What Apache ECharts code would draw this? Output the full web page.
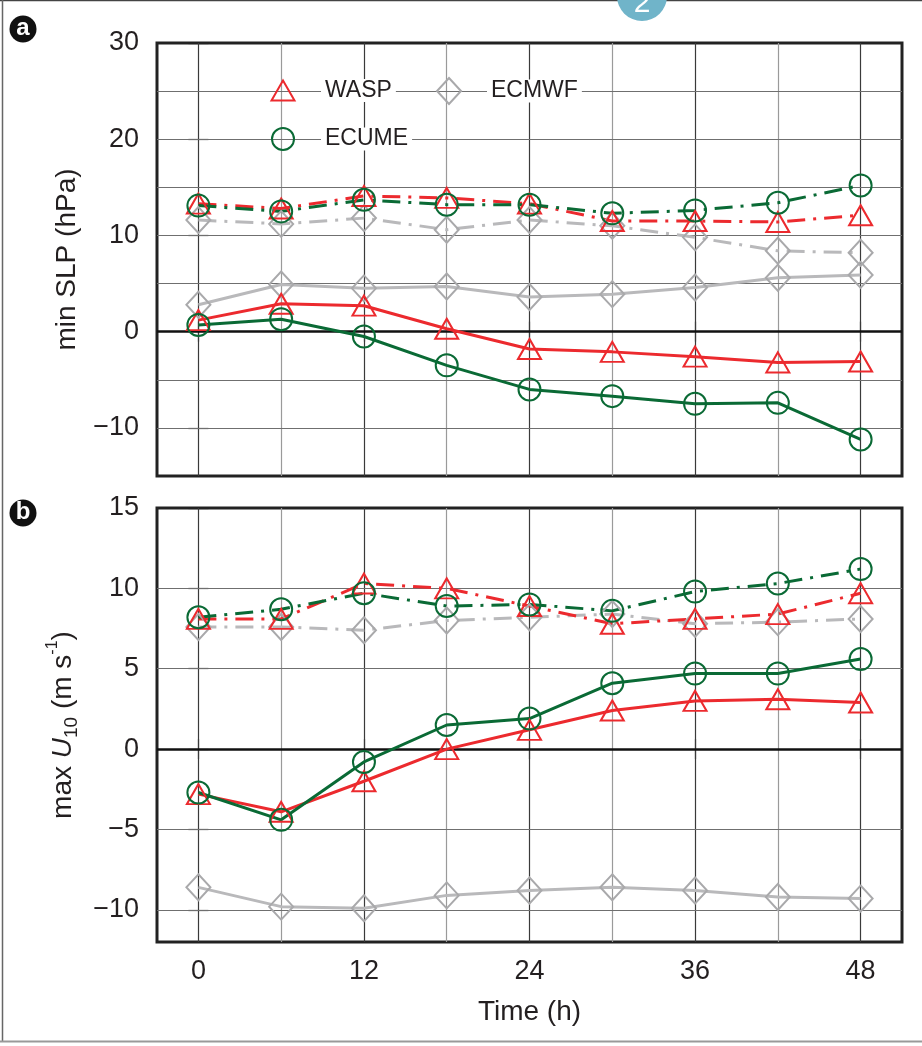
<!DOCTYPE html>
<html>
<head>
<meta charset="utf-8">
<style>
html,body{margin:0;padding:0;background:#fff;}
#chart{width:922px;height:1046px;}
</style>
<script src="https://cdn.jsdelivr.net/npm/echarts@6/dist/echarts.min.js"></script>
</head>
<body>
<div id="chart"></div>
<script>
// ---- data ----
const hours = [0, 6, 12, 18, 24, 30, 36, 42, 48];

// Panel a: min SLP (hPa)
const slpWaspSolid  = [1.2, 2.9, 2.7, 0.3, -1.8, -2.1, -2.6, -3.2, -3.1];
const slpEcumeSolid = [0.7, 1.3, -0.5, -3.5, -6.0, -6.7, -7.5, -7.4, -11.2];
const slpEcmwfSolid = [2.8, 4.9, 4.5, 4.7, 3.6, 3.9, 4.6, 5.6, 5.9];
const slpWaspDash   = [13.3, 12.8, 14.1, 13.9, 13.3, 11.5, 11.5, 11.4, 12.1];
const slpEcumeDash  = [13.1, 12.5, 13.7, 13.2, 13.2, 12.3, 12.6, 13.4, 15.2];
const slpEcmwfDash  = [11.6, 11.2, 11.8, 10.6, 11.6, 11.0, 9.8, 8.4, 8.2];

// Panel b: max U10 (m s-1)
const uWaspSolid  = [-2.8, -3.9, -2.0, 0.0, 1.2, 2.4, 3.0, 3.1, 2.9];
const uEcumeSolid = [-2.7, -4.4, -0.8, 1.5, 1.9, 4.1, 4.7, 4.7, 5.6];
const uEcmwfSolid = [-8.6, -9.8, -9.9, -9.1, -8.8, -8.6, -8.8, -9.2, -9.3];
const uWaspDash   = [8.1, 8.1, 10.3, 10.0, 8.9, 7.8, 8.1, 8.4, 9.7];
const uEcumeDash  = [8.2, 8.7, 9.7, 8.9, 9.0, 8.6, 9.8, 10.3, 11.2];
const uEcmwfDash  = [7.6, 7.6, 7.4, 8.0, 8.2, 8.4, 7.8, 7.9, 8.1];

// ticks / grid values
const xTickLabels = [0, 12, 24, 36, 48];
const xGridLines  = [0, 6, 12, 18, 24, 30, 36, 42, 48];
const slpTickLabels = [-10, 0, 10, 20, 30];
const slpGridLines  = [-10, -5, 5, 10, 15, 20, 25];
const uTickLabels = [-10, -5, 0, 5, 10, 15];
const uGridLines  = [-10, -5, 5, 10];

// ---- styles ----
const RED = '#ec2a2e', GREEN = '#0a6a35', GREY = '#b9b9bb', GREYM = '#a9a9ab';
const FONT = "'Liberation Sans', Arial, Helvetica, sans-serif";
const TXT = '#231f20';
const DASHDOT = [18, 8, 3, 8];

const symbols = {
  WASP:  {symbol: 'triangle', size: [23, 20], color: RED,   line: RED},
  ECUME: {symbol: 'circle',   size: [22, 22], color: GREEN, line: GREEN},
  ECMWF: {symbol: 'diamond',  size: [24, 26], color: GREYM, line: GREY}
};

function pairs(vals) { return hours.map((h, i) => [h, vals[i]]); }
function minus(v) { return v < 0 ? '\u2212' + Math.abs(v) : String(v); }

function makeSeries(name, vals, dashed, axisIdx) {
  const s = symbols[name];
  return {
    name: name, type: 'line',
    xAxisIndex: axisIdx.x, yAxisIndex: axisIdx.y,
    data: pairs(vals),
    symbol: s.symbol, symbolSize: s.size,
    showAllSymbol: true,
    itemStyle: {color: 'rgba(0,0,0,0)', borderColor: s.color, borderWidth: 2},
    lineStyle: {color: s.line, width: 3, type: dashed ? DASHDOT : 'solid'},
    emphasis: {disabled: true},
    silent: true, z: 3
  };
}

function gridMarks(gridVals) {
  const d = [];
  xGridLines.forEach(v => d.push({xAxis: v, lineStyle: {color: v % 12 === 0 ? '#3a3a3a' : '#9a9a9a', width: 1.2, type: 'solid'}}));
  gridVals.forEach(v => d.push({yAxis: v, lineStyle: {color: '#6f6f6f', width: 1.2, type: 'solid'}}));
  d.push({yAxis: 0, lineStyle: {color: '#111', width: 2.6, type: 'solid'}});
  return {silent: true, symbol: ['none', 'none'], label: {show: false}, z: 1, animation: false, data: d};
}

const tickLine = {color: '#222', width: 1.2};

function xAxisDef(grid, pos, labels, name) {
  return {
    type: 'value', gridIndex: grid, position: pos, min: -3, max: 51,
    axisLine: {show: false},
    axisTick: {show: true, length: 10, customValues: xTickLabels, lineStyle: tickLine},
    axisLabel: labels ? {show: true, customValues: xTickLabels, margin: 16, fontSize: 27, color: TXT, fontFamily: FONT} : {show: false},
    splitLine: {show: false},
    name: name || '', nameLocation: 'middle', nameGap: 56,
    nameTextStyle: {fontSize: 28, color: TXT, fontFamily: FONT}
  };
}
function yAxisDef(grid, pos, min, max, ticks, labels, name, rich) {
  const a = {
    type: 'value', gridIndex: grid, position: pos, min: min, max: max,
    axisLine: {show: false},
    axisTick: {show: true, length: 10, customValues: ticks, lineStyle: tickLine},
    axisLabel: labels ? {show: true, customValues: ticks, margin: 18, fontSize: 27, color: TXT, fontFamily: FONT, formatter: minus} : {show: false},
    splitLine: {show: false}
  };
  if (name) {
    a.name = name; a.nameLocation = 'middle'; a.nameGap = 76; a.nameRotate = 90;
    a.nameTextStyle = {fontSize: 28, color: TXT, fontFamily: FONT};
    if (rich) a.nameTextStyle.rich = rich;
  }
  return a;
}

const u10Rich = {
  n:   {fontSize: 28, color: TXT, fontFamily: FONT, lineHeight: 36},
  i:   {fontSize: 28, color: TXT, fontFamily: FONT, fontStyle: 'italic', lineHeight: 36},
  sub: {fontSize: 19, color: TXT, fontFamily: FONT, verticalAlign: 'bottom', lineHeight: 36},
  sup: {fontSize: 16, color: TXT, fontFamily: FONT, verticalAlign: 'top', lineHeight: 36}
};

const series = [
  // panel a
  Object.assign(makeSeries('ECMWF', slpEcmwfSolid, false, {x: 0, y: 0}), {markLine: gridMarks(slpGridLines)}),
  makeSeries('ECMWF', slpEcmwfDash, true, {x: 0, y: 0}),
  makeSeries('WASP', slpWaspSolid, false, {x: 0, y: 0}),
  makeSeries('WASP', slpWaspDash, true, {x: 0, y: 0}),
  makeSeries('ECUME', slpEcumeSolid, false, {x: 0, y: 0}),
  makeSeries('ECUME', slpEcumeDash, true, {x: 0, y: 0}),
  // panel b
  Object.assign(makeSeries('ECMWF', uEcmwfSolid, false, {x: 2, y: 2}), {markLine: gridMarks(uGridLines)}),
  makeSeries('ECMWF', uEcmwfDash, true, {x: 2, y: 2}),
  makeSeries('WASP', uWaspSolid, false, {x: 2, y: 2}),
  makeSeries('WASP', uWaspDash, true, {x: 2, y: 2}),
  makeSeries('ECUME', uEcumeSolid, false, {x: 2, y: 2}),
  makeSeries('ECUME', uEcumeDash, true, {x: 2, y: 2})
];

// legend: icon centred at (cx, cy); white text box starts at textX
function legendDef(name, cx, cy, textX) {
  const s = symbols[name];
  const w = s.size[0], h = s.size[1];
  const left = cx - w / 2;
  const gap = textX - (left + w + 5);
  return {
    show: true, left: left, top: cy - h / 2, orient: 'horizontal',
    itemWidth: w, itemHeight: h, selectedMode: false, padding: 0,
    data: [{name: name, icon: s.symbol,
            itemStyle: {color: 'rgba(0,0,0,0)', borderColor: s.color, borderWidth: 2}}],
    formatter: '{g| }{t|{name}}',
    textStyle: {
      fontSize: 23, color: TXT, fontFamily: FONT,
      rich: {
        g: {width: gap, fontSize: 23, lineHeight: Math.min(h, 22)},
        t: {fontSize: 23, color: TXT, fontFamily: FONT, backgroundColor: '#fff', padding: [0, 4, 0, 4], lineHeight: Math.min(h, 22)}
      }
    }
  };
}

function panelLabel(letter, cx, cy) {
  return {
    type: 'group', children: [
      {type: 'circle', shape: {cx: cx, cy: cy, r: 13.5}, style: {fill: '#111'}},
      {type: 'text', x: cx, y: cy - 1, style: {text: letter, fill: '#fff', fontSize: 24, fontWeight: 'bold', fontFamily: FONT, align: 'center', verticalAlign: 'middle'}}
    ]
  };
}

const option = {
  animation: false,
  backgroundColor: '#fff',
  grid: [
    {left: 157, top: 43, width: 745, height: 433, show: true, borderColor: '#222', borderWidth: 3, backgroundColor: 'transparent'},
    {left: 157, top: 508, width: 745, height: 434, show: true, borderColor: '#222', borderWidth: 3, backgroundColor: 'transparent'}
  ],
  xAxis: [
    xAxisDef(0, 'bottom', false),
    xAxisDef(0, 'top', false),
    xAxisDef(1, 'bottom', true, 'Time (h)'),
    xAxisDef(1, 'top', false)
  ],
  yAxis: [
    yAxisDef(0, 'left', -15, 30, slpTickLabels, true, 'min SLP (hPa)'),
    yAxisDef(0, 'right', -15, 30, slpTickLabels, false),
    yAxisDef(1, 'left', -12, 15, uTickLabels, true, '{n|max }{i|U}{sub|10}{n| (m s}{sup|-1}{n|)}', u10Rich),
    yAxisDef(1, 'right', -12, 15, uTickLabels, false)
  ],
  legend: [
    legendDef('WASP', 282, 89, 320),
    legendDef('ECMWF', 448, 90, 486),
    legendDef('ECUME', 282, 138, 320)
  ],
  series: series,
  graphic: [
    {type: 'line', shape: {x1: 0, y1: 0.5, x2: 922, y2: 0.5}, style: {stroke: '#444', lineWidth: 1.5}},
    {type: 'line', shape: {x1: 2.5, y1: 0, x2: 2.5, y2: 1042}, style: {stroke: '#666', lineWidth: 1.5}},
    {type: 'line', shape: {x1: 0, y1: 1041.5, x2: 922, y2: 1041.5}, style: {stroke: '#999', lineWidth: 2}},
    {type: 'circle', shape: {cx: 642, cy: -4, r: 25}, style: {fill: '#70b4c9'}},
    {type: 'text', x: 642, y: 4, style: {text: '2', fill: '#fff', fontSize: 30, fontFamily: FONT, align: 'center', verticalAlign: 'middle'}},
    panelLabel('a', 23, 29),
    panelLabel('b', 23, 513)
  ]
};

const chart = echarts.init(document.getElementById('chart'), null, {renderer: 'canvas'});
chart.setOption(option);
</script>
</body>
</html>
